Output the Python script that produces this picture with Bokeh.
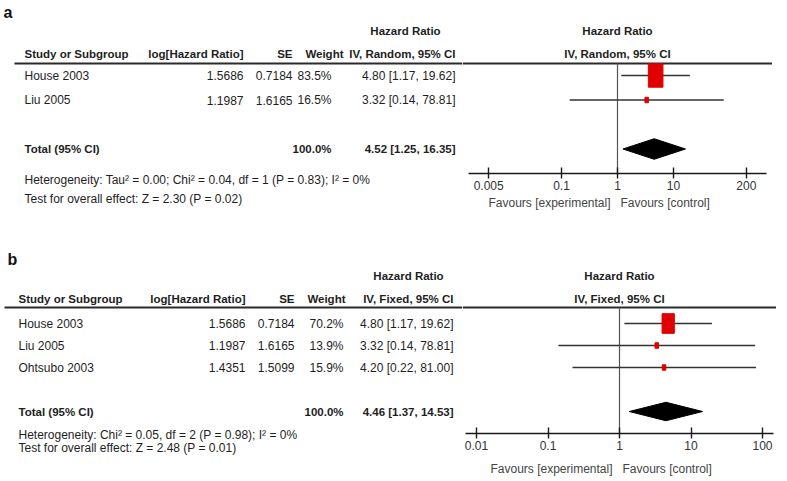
from bokeh.plotting import figure
from bokeh.layouts import column, row
from bokeh.models import Range1d, FixedTicker, CustomJSTickFormatter, ColumnDataSource, Title
from bokeh.core.properties import value
from bokeh.embed import file_html
from bokeh.resources import INLINE

# ---------------- data ----------------
# panel a (random effects)
a_studies = ["House 2003", "Liu 2005"]
a_loghr = [1.5686, 1.1987]
a_se = [0.7184, 1.6165]
a_weight = [83.5, 16.5]
a_hr = [4.80, 3.32]
a_lo = [1.17, 0.14]
a_hi = [19.62, 78.81]
a_total = [4.52, 1.25, 16.35]
a_method = "IV, Random, 95% CI"
a_het = "Heterogeneity: Tau² = 0.00; Chi² = 0.04, df = 1 (P = 0.83); I² = 0%"
a_test = "Test for overall effect: Z = 2.30 (P = 0.02)"
a_ticks = [0.005, 0.1, 1, 10, 200]

# panel b (fixed effects)
b_studies = ["House 2003", "Liu 2005", "Ohtsubo 2003"]
b_loghr = [1.5686, 1.1987, 1.4351]
b_se = [0.7184, 1.6165, 1.5099]
b_weight = [70.2, 13.9, 15.9]
b_hr = [4.80, 3.32, 4.20]
b_lo = [1.17, 0.14, 0.22]
b_hi = [19.62, 78.81, 81.00]
b_total = [4.46, 1.37, 14.53]
b_method = "IV, Fixed, 95% CI"
b_het = "Heterogeneity: Chi² = 0.05, df = 2 (P = 0.98); I² = 0%"
b_test = "Test for overall effect: Z = 2.48 (P = 0.01)"
b_ticks = [0.01, 0.1, 1, 10, 100]

favours_left = "Favours [experimental]"
favours_right = "Favours [control]"

# ---------------- style ----------------
FONT = "Liberation Sans"
FS = "12px"
FSH = "11.5px"
TXT = "#1e1e1e"
RED = "#e00000"
W_TAB = 462
NB = "\u00a0"

LA = dict(letter="a", letter_x=3, H=240, label_y=12, hr_y=30, hdr_y=53, line_y=63, y0=75,
          dy=24.5, axis_y=173, name_x=24, loghr_x=243, se_x=292,
          wt_hdr_x=343, wt_x=331, ci_x=455, hrhdr_x=405, one_px=617, px_dec=56.0,
          bound_dec=2.66, line_x0=14, het_standoff=-5, test_standoff=11, fav_standoff=3)
LB = dict(letter="b", letter_x=7, H=238, label_y=19, hr_y=35, hdr_y=58, line_y=67, y0=83,
          dy=22.0, axis_y=193, name_x=18, loghr_x=245, se_x=294,
          wt_hdr_x=345, wt_x=343, ci_x=453, hrhdr_x=408, one_px=619, px_dec=71.5,
          bound_dec=2.154, line_x0=4, het_standoff=-15, test_standoff=9, fav_standoff=9)


def txt(p, xs, ys, texts, align="left", bold=False, size=FS, color=TXT, baseline="middle"):
    src = ColumnDataSource(dict(x=list(xs), y=list(ys), t=list(texts)))
    p.text(x="x", y="y", text="t", source=src, text_align=align, text_baseline=baseline,
           text_font=value(FONT), text_font_size=size,
           text_font_style="bold" if bold else "normal", text_color=color)


def bare(p, bottom):
    p.outline_line_color = None
    p.background_fill_color = "white"
    p.border_fill_color = "white"
    p.min_border_left = 0
    p.min_border_right = 0
    p.min_border_top = 0
    p.min_border_bottom = bottom
    p.xgrid.visible = False
    p.ygrid.visible = False


def panel(L, studies, loghr, se, weight, hr, lo, hi, total, method, het, test, ticks):
    H = L["H"]
    y0, dy = L["y0"], L["dy"]
    axis_y = L["axis_y"]

    def ry(px):
        return (px - y0) / dy

    n = len(studies)
    rows = list(range(n))
    total_row = n + 1

    # ---------- table ----------
    t = figure(width=W_TAB, height=H, x_range=Range1d(0, W_TAB),
               y_range=Range1d(ry(axis_y), ry(0)),
               x_axis_location=None, y_axis_location=None, toolbar_location=None,
               output_backend="svg")
    bare(t, H - axis_y)

    txt(t, [L["letter_x"]], [ry(L["label_y"])], [L["letter"]], bold=True, size="16px",
        color="#111", baseline="alphabetic")
    txt(t, [L["hrhdr_x"]], [ry(L["hr_y"])], ["Hazard Ratio"], align="center", bold=True, size=FSH)
    hy = ry(L["hdr_y"])
    txt(t, [L["name_x"]], [hy], ["Study or Subgroup"], bold=True, size=FSH)
    txt(t, [L["loghr_x"], L["se_x"], L["wt_hdr_x"], L["ci_x"]], [hy] * 4,
        ["log[Hazard Ratio]", "SE", "Weight", method], align="right", bold=True, size=FSH)
    t.segment(x0=[L["line_x0"]], y0=[ry(L["line_y"])], x1=[W_TAB], y1=[ry(L["line_y"])],
              line_color="#2a2a2a", line_width=2)

    txt(t, [L["name_x"]] * n, rows, studies)
    txt(t, [L["loghr_x"]] * n, rows, [f"{v:.4f}" for v in loghr], align="right")
    txt(t, [L["se_x"]] * n, rows, [f"{v:.4f}" for v in se], align="right")
    txt(t, [L["wt_x"]] * n, rows, [f"{v:.1f}%" for v in weight], align="right")
    txt(t, [L["ci_x"]] * n, rows, [f"{h:.2f} [{a:.2f}, {b:.2f}]" for h, a, b in zip(hr, lo, hi)],
        align="right")

    txt(t, [L["name_x"]], [total_row], ["Total (95% CI)"], bold=True, size=FSH)
    txt(t, [L["wt_x"]], [total_row], [f"{sum(weight):.1f}%"], align="right", bold=True, size=FSH)
    txt(t, [L["ci_x"]], [total_row], [f"{total[0]:.2f} [{total[1]:.2f}, {total[2]:.2f}]"],
        align="right", bold=True, size=FSH)

    # heterogeneity / overall effect lines (below the table frame)
    for s, so in ((het, L["het_standoff"]), (test, L["test_standoff"])):
        t.add_layout(Title(text=s, align="left", offset=L["name_x"], standoff=so,
                           text_font=FONT, text_font_size=FS, text_font_style="normal",
                           text_color=TXT), "below")

    # ---------- forest ----------
    half = L["one_px"] - W_TAB
    fw = 2 * half
    dec = half / L["px_dec"]
    f = figure(width=fw, height=H, x_axis_type="log",
               x_range=Range1d(10 ** (-dec), 10 ** dec), y_range=Range1d(ry(axis_y), ry(0)),
               y_axis_location=None, toolbar_location=None, output_backend="svg")
    bare(f, H - axis_y)

    ax = f.xaxis[0]
    ax.ticker = FixedTicker(ticks=ticks)
    ax.formatter = CustomJSTickFormatter(code="return tick.toString();")
    ax.bounds = (10 ** (-L["bound_dec"]), 10 ** L["bound_dec"])
    ax.axis_line_color = "#1a1a1a"
    ax.axis_line_width = 1.6
    ax.major_tick_line_color = "#1a1a1a"
    ax.major_tick_line_width = 1.4
    ax.major_tick_in = 6
    ax.major_tick_out = 5
    ax.minor_tick_line_color = None
    ax.major_label_standoff = 2
    ax.major_label_text_font = FONT
    ax.major_label_text_font_size = FS
    ax.major_label_text_color = "#333333"
    ax.axis_label = favours_left + NB * 3 + favours_right + NB * 11
    ax.axis_label_standoff = L["fav_standoff"]
    ax.axis_label_text_font = FONT
    ax.axis_label_text_font_size = FS
    ax.axis_label_text_font_style = "normal"
    ax.axis_label_text_color = "#444444"

    txt(f, [1], [ry(L["hr_y"])], ["Hazard Ratio"], align="center", bold=True, size=FSH)
    txt(f, [1], [ry(L["hdr_y"])], [method], align="center", bold=True, size=FSH)
    f.segment(x0=[10 ** (-dec)], y0=[ry(L["line_y"])], x1=[10 ** dec], y1=[ry(L["line_y"])],
              line_color="#2a2a2a", line_width=2)
    f.segment(x0=[1], y0=[ry(L["line_y"])], x1=[1], y1=[ry(axis_y)],
              line_color="#555555", line_width=1.2)

    # CI lines and study boxes
    f.segment(x0=lo, y0=rows, x1=hi, y1=rows, line_color="#333333", line_width=1.4)
    bw = [max(3.5, 0.175 * w) for w in weight]
    bh = [max(5.5, 0.28 * w) for w in weight]
    f.rect(x=hr, y=rows, width=bw, height=bh, width_units="screen", height_units="screen",
           fill_color=RED, line_color=RED)

    # pooled diamond
    dh = 0.42
    f.patch(x=[total[1], total[0], total[2], total[0]],
            y=[total_row, total_row - dh, total_row, total_row + dh],
            fill_color="black", line_color="black")
    return row(t, f)


pa = panel(LA, a_studies, a_loghr, a_se, a_weight, a_hr, a_lo, a_hi, a_total, a_method,
           a_het, a_test, a_ticks)
pb = panel(LB, b_studies, b_loghr, b_se, b_weight, b_hr, b_lo, b_hi, b_total, b_method,
           b_het, b_test, b_ticks)
p = column(pa, pb)

open("out.html", "w").write(file_html(p, INLINE))
